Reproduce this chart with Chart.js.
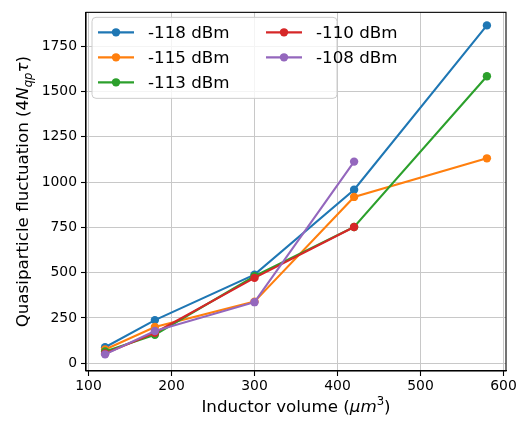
<!DOCTYPE html>
<html>
<head>
<meta charset="utf-8">
<script src="https://cdn.jsdelivr.net/npm/chart.js@4/dist/chart.umd.min.js"></script>
<style>
html,body{margin:0;padding:0;background:#fff;}
canvas{display:block;}
</style>
</head>
<body>
<canvas id="c" width="530" height="423"></canvas>
<script>
const volumes = [120, 180, 300, 420, 580];
const seriesLabels = ['-118 dBm', '-115 dBm', '-113 dBm', '-110 dBm', '-108 dBm'];
const s118 = [88, 238, 489, 958, 1865];
const s115 = [76, 200, 340, 918, 1131];
const s113 = [65, 157, 480, 752, 1584];
const s110 = [54, 168, 471, 752, null];
const s108 = [49, 178, 337, 1113, null];
const xTicks = [100, 200, 300, 400, 500, 600];
const yTicks = [0, 250, 500, 750, 1000, 1250, 1500, 1750];
const colors = ['#1f77b4', '#ff7f0e', '#2ca02c', '#d62728', '#9467bd'];

const allSeries = [s118, s115, s113, s110, s108];
const FONT = "'DejaVu Sans', sans-serif";

const datasets = allSeries.map((s, i) => ({
  label: seriesLabels[i],
  data: volumes.map((v, j) => s[j] == null ? null : ({x: v, y: s[j]})).filter(p => p),
  borderColor: colors[i],
  backgroundColor: colors[i],
  borderWidth: 2.1,
  pointRadius: 4.2,
  pointBorderWidth: 0,
  pointBackgroundColor: colors[i],
  showLine: true,
  tension: 0,
  order: 4 - i
}));

function drawRich(ctx, segs, size) {
  let w = 0;
  const parts = segs.map(s => {
    const fs = s.sub || s.sup ? size * 0.7 : size;
    const f = (s.it ? 'italic ' : '') + fs + 'px ' + FONT;
    ctx.font = f;
    const mw = ctx.measureText(s.t).width;
    w += mw;
    return {s, f, mw};
  });
  return {w, parts};
}
function renderRich(ctx, segs, size, cx, cy) {
  const m = drawRich(ctx, segs, size);
  let x = cx - m.w / 2;
  ctx.textBaseline = 'alphabetic';
  ctx.textAlign = 'left';
  m.parts.forEach(p => {
    ctx.font = p.f;
    let dy = 0;
    if (p.s.sub) dy = size * 0.22;
    if (p.s.sup) dy = -size * 0.38;
    ctx.fillText(p.s.t, x, cy + size * 0.35 + dy);
    x += p.mw;
  });
}

const extras = {
  id: 'extras',
  afterDatasetsDraw(chart) {
    const ctx = chart.ctx, a = chart.chartArea;
    ctx.save();
    ctx.strokeStyle = '#000';
    ctx.lineWidth = 1.1;
    ctx.strokeRect(a.left, a.top, a.right - a.left, a.bottom - a.top);
    ctx.restore();
  },
  afterDraw(chart) {
    const ctx = chart.ctx, a = chart.chartArea;
    ctx.save();
    ctx.fillStyle = '#000';
    renderRich(ctx, [
      {t: 'Inductor volume ('},
      {t: 'μm', it: true},
      {t: '3', sup: true},
      {t: ')'}
    ], 16.7, (a.left + a.right) / 2, 406);
    ctx.save();
    ctx.translate(22, (a.top + a.bottom) / 2);
    ctx.rotate(-Math.PI / 2);
    renderRich(ctx, [
      {t: 'Quasiparticle fluctuation ('},
      {t: '4'},
      {t: 'N', it: true},
      {t: 'qp', it: true, sub: true},
      {t: 'τ', it: true},
      {t: ')'}
    ], 16.7, 0, 0);
    ctx.restore();

    const lx = a.left + 6, ly = a.top + 5, lw = 245, lh = 81;
    ctx.beginPath();
    const r = 4;
    ctx.moveTo(lx + r, ly);
    ctx.arcTo(lx + lw, ly, lx + lw, ly + lh, r);
    ctx.arcTo(lx + lw, ly + lh, lx, ly + lh, r);
    ctx.arcTo(lx, ly + lh, lx, ly, r);
    ctx.arcTo(lx, ly, lx + lw, ly, r);
    ctx.closePath();
    ctx.fillStyle = 'rgba(255,255,255,0.8)';
    ctx.fill();
    ctx.strokeStyle = '#cccccc';
    ctx.lineWidth = 1;
    ctx.stroke();

    const pos = [[0,0],[0,1],[0,2],[1,0],[1,1]];
    ctx.font = '16.7px ' + FONT;
    ctx.textBaseline = 'middle';
    ctx.textAlign = 'left';
    seriesLabels.forEach((lab, i) => {
      const col = pos[i][0], row = pos[i][1];
      const hx = lx + 6 + col * 168;
      const hy = ly + 15 + row * 25;
      ctx.strokeStyle = colors[i];
      ctx.lineWidth = 2.1;
      ctx.beginPath();
      ctx.moveTo(hx, hy);
      ctx.lineTo(hx + 36, hy);
      ctx.stroke();
      ctx.fillStyle = colors[i];
      ctx.beginPath();
      ctx.arc(hx + 18, hy, 4.2, 0, Math.PI * 2);
      ctx.fill();
      ctx.fillStyle = '#000';
      ctx.fillText(lab, hx + 50, hy + 1);
    });
    ctx.restore();
  }
};

new Chart(document.getElementById('c'), {
  type: 'scatter',
  data: {datasets},
  options: {
    responsive: false,
    animation: false,
    devicePixelRatio: 1,
    layout: {padding: {top: 5, right: 24, left: 0, bottom: 0}},
    plugins: {legend: {display: false}, tooltip: {enabled: false}},
    scales: {
      x: {
        type: 'linear',
        min: 97, max: 603,
        afterBuildTicks: s => { s.ticks = xTicks.map(v => ({value: v})); },
        afterFit: s => { s.height = 52; },
        grid: {color: '#c8c8c8', lineWidth: 1, tickLength: 5, tickColor: '#000', tickWidth: 1.1},
        border: {display: true, color: '#000', width: 1.1},
        ticks: {color: '#000', font: {family: FONT, size: 13.9}, padding: 2, maxRotation: 0,
                callback: v => String(v)}
      },
      y: {
        type: 'linear',
        min: -43, max: 1937,
        afterBuildTicks: s => { s.ticks = yTicks.map(v => ({value: v})); },
        afterFit: s => { s.width = 86; },
        grid: {color: '#c8c8c8', lineWidth: 1, tickLength: 5, tickColor: '#000', tickWidth: 1.1},
        border: {display: true, color: '#000', width: 1.1},
        ticks: {color: '#000', font: {family: FONT, size: 13.9}, padding: 4,
                callback: v => String(v)}
      }
    }
  },
  plugins: [extras]
});
</script>
</body>
</html>
